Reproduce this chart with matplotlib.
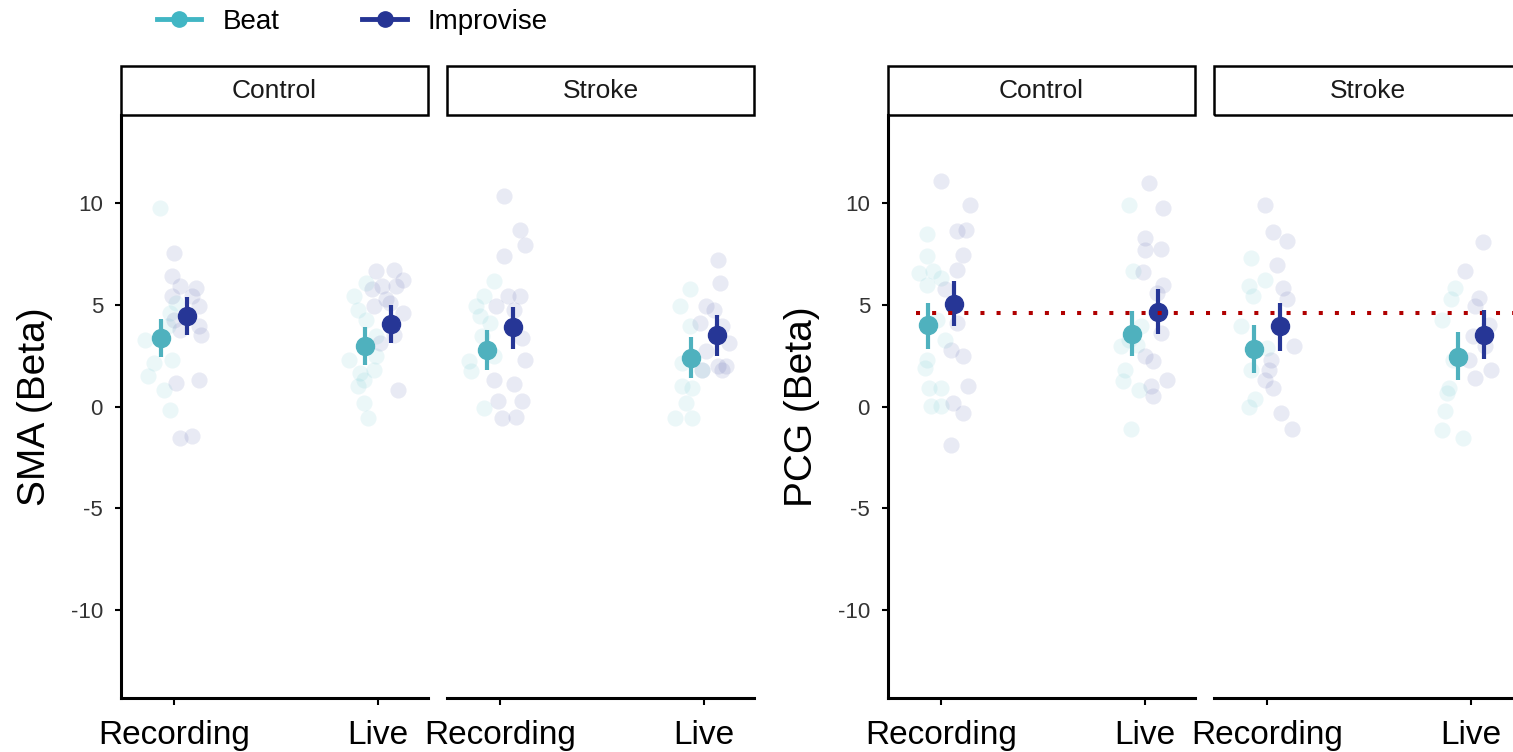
#Beta estimates for SMA and PCG by group, condition and task.
import matplotlib.pyplot as plt
from matplotlib.patches import Rectangle
from matplotlib.lines import Line2D

plt.rcParams['font.family'] = ['Liberation Sans', 'DejaVu Sans']

conditions = ["Recording", "Live"]
groups = ["Control", "Stroke"]
tasks = ["Beat", "Improvise"]
ylabels = ["SMA (Beta)", "PCG (Beta)"]
yticks = [-10, -5, 0, 5, 10]
pcg_reference = 4.6

#Individual betas (y) with the jitter offsets seen on the plot (dx).
#SMA, Control
sma_ctrl_rec_beat = [9.74, 3.28, 2.14, 1.49, 0.83, -0.15, 2.30, 4.59, 5.08, 3.94]
sma_ctrl_rec_beat_dx = [-0.07, -0.14, -0.10, -0.13, -0.05, -0.02, -0.01, -0.02, 0.01, -0.03]
sma_ctrl_rec_imp = [7.53, 6.39, 5.90, 5.82, 5.41, 4.92, 5.41, 3.94, 3.53, 1.16, 1.32, -1.53, -1.46, 3.77, 4.26]
sma_ctrl_rec_imp_dx = [0.00, -0.01, 0.03, 0.11, -0.01, 0.12, 0.09, 0.12, 0.13, 0.01, 0.12, 0.03, 0.09, 0.03, 0.00]
sma_ctrl_live_beat = [5.41, 4.75, 6.06, 2.30, 1.65, 1.32, 0.99, 0.18, -0.56, 1.81, 3.45, 4.26, 2.47]
sma_ctrl_live_beat_dx = [-0.12, -0.10, -0.06, -0.14, -0.09, -0.07, -0.10, -0.07, -0.05, -0.02, -0.01, -0.06, -0.01]
sma_ctrl_live_imp = [6.63, 6.72, 6.23, 5.90, 5.25, 4.92, 5.90, 4.59, 3.53, 3.12, 0.83, 5.08, 5.74]
sma_ctrl_live_imp_dx = [-0.01, 0.08, 0.12, 0.09, 0.04, -0.02, 0.02, 0.12, 0.08, 0.01, 0.10, 0.06, -0.03]
#SMA, Stroke
sma_str_rec_beat = [6.14, 5.41, 4.92, 2.22, 1.73, -0.07, 4.10, 4.43, 2.47, 3.45]
sma_str_rec_beat_dx = [-0.03, -0.08, -0.12, -0.15, -0.14, -0.08, -0.05, -0.10, -0.03, -0.09]
sma_str_rec_imp = [10.34, 8.68, 7.94, 7.40, 5.41, 5.41, 4.92, 3.37, 2.30, 1.32, 1.08, 0.26, 0.26, -0.56, -0.51, 4.75]
sma_str_rec_imp_dx = [0.02, 0.10, 0.12, 0.02, 0.10, 0.04, -0.02, 0.11, 0.12, -0.03, 0.07, 0.11, -0.01, 0.01, 0.08, 0.07]
sma_str_live_beat = [5.74, 4.92, 3.94, 0.99, 0.91, 0.18, -0.56, -0.56, 1.81, 2.14]
sma_str_live_beat_dx = [-0.07, -0.12, -0.07, -0.11, -0.06, -0.09, -0.14, -0.06, -0.01, -0.11]
sma_str_live_imp = [7.21, 6.06, 4.92, 4.75, 4.10, 3.94, 3.12, 2.71, 1.98, 1.81, 1.81, 1.98]
sma_str_live_imp_dx = [0.07, 0.08, 0.01, 0.05, -0.02, 0.09, 0.12, 0.01, 0.11, 0.09, -0.01, 0.07]
#PCG, Control
pcg_ctrl_rec_beat = [8.48, 7.37, 6.55, 6.63, 5.98, 6.31, 3.28, 2.30, 1.90, 0.91, 0.91, 0.02, 0.02, 4.26]
pcg_ctrl_rec_beat_dx = [-0.07, -0.07, -0.11, -0.04, -0.07, 0.00, 0.02, -0.07, -0.08, -0.06, 0.00, -0.05, 0.00, -0.02]
pcg_ctrl_rec_imp = [11.04, 9.90, 8.64, 8.59, 7.45, 6.72, 5.74, 4.10, 2.79, 2.47, 0.99, 0.18, -0.34, -1.90]
pcg_ctrl_rec_imp_dx = [0.00, 0.14, 0.12, 0.08, 0.11, 0.08, 0.02, 0.08, 0.05, 0.11, 0.13, 0.06, 0.11, 0.05]
pcg_ctrl_live_beat = [9.90, 6.63, 3.28, 2.96, 1.81, 1.24, 0.83, -1.09, 3.04, 3.94]
pcg_ctrl_live_beat_dx = [-0.08, -0.06, -0.08, -0.12, -0.10, -0.11, -0.03, -0.07, -0.04, -0.02]
pcg_ctrl_live_imp = [10.96, 9.74, 8.27, 7.70, 7.73, 6.60, 5.98, 5.57, 2.47, 2.22, 0.99, 1.29, 0.51, 3.61]
pcg_ctrl_live_imp_dx = [0.02, 0.09, 0.00, 0.00, 0.08, -0.01, 0.09, 0.06, 0.00, 0.04, 0.03, 0.11, 0.04, 0.08]
#PCG, Stroke
pcg_str_rec_beat = [7.29, 5.90, 6.23, 3.94, 2.88, 1.81, 0.38, -0.02, 5.41]
pcg_str_rec_beat_dx = [-0.08, -0.09, -0.01, -0.13, 0.00, -0.08, -0.06, -0.09, -0.07]
pcg_str_rec_imp = [9.87, 8.54, 8.10, 6.96, 5.82, 5.25, 2.96, 1.81, 1.29, 0.91, -0.31, -1.09, 2.30]
pcg_str_rec_imp_dx = [-0.01, 0.03, 0.10, 0.05, 0.08, 0.10, 0.13, 0.01, -0.01, 0.03, 0.07, 0.12, 0.02]
pcg_str_live_beat = [5.82, 5.25, 4.26, -0.23, 0.67, 0.91, -1.13, -1.53, 2.30]
pcg_str_live_beat_dx = [-0.08, -0.10, -0.14, -0.13, -0.12, -0.11, -0.14, -0.04, -0.09]
pcg_str_live_imp = [8.05, 6.67, 5.33, 4.92, 4.02, 3.45, 1.81, 1.41, 2.30, 2.96]
pcg_str_live_imp_dx = [0.06, -0.03, 0.04, 0.02, 0.09, 0.01, 0.10, 0.02, -0.01, 0.07]

#Means and 95% CI, order: Control Rec, Control Live, Stroke Rec, Stroke Live.
sma_beat_mean = [3.37, 2.96, 2.79, 2.39]
sma_beat_lo = [2.44, 2.06, 1.81, 1.41]
sma_beat_hi = [4.31, 3.91, 3.77, 3.40]
sma_imp_mean = [4.43, 4.05, 3.89, 3.50]
sma_imp_lo = [3.50, 3.12, 2.84, 2.47]
sma_imp_hi = [5.36, 4.97, 4.87, 4.48]
pcg_beat_mean = [3.99, 3.58, 2.83, 2.43]
pcg_beat_lo = [2.84, 2.50, 1.65, 1.29]
pcg_beat_hi = [5.08, 4.67, 4.02, 3.64]
pcg_imp_mean = [5.05, 4.64, 3.94, 3.53]
pcg_imp_lo = [3.94, 3.58, 2.71, 2.34]
pcg_imp_hi = [6.18, 5.77, 5.08, 4.71]

#Colours
point_col = {"Beat": "#41B6C4", "Improvise": "#253494"}
mean_col = {"Beat": "#4FB1BE", "Improvise": "#263696"}
dodge = {"Beat": -0.062, "Improvise": 0.062}

raw = {
    ("SMA", "Control", "Recording"): [(sma_ctrl_rec_beat, sma_ctrl_rec_beat_dx), (sma_ctrl_rec_imp, sma_ctrl_rec_imp_dx)],
    ("SMA", "Control", "Live"): [(sma_ctrl_live_beat, sma_ctrl_live_beat_dx), (sma_ctrl_live_imp, sma_ctrl_live_imp_dx)],
    ("SMA", "Stroke", "Recording"): [(sma_str_rec_beat, sma_str_rec_beat_dx), (sma_str_rec_imp, sma_str_rec_imp_dx)],
    ("SMA", "Stroke", "Live"): [(sma_str_live_beat, sma_str_live_beat_dx), (sma_str_live_imp, sma_str_live_imp_dx)],
    ("PCG", "Control", "Recording"): [(pcg_ctrl_rec_beat, pcg_ctrl_rec_beat_dx), (pcg_ctrl_rec_imp, pcg_ctrl_rec_imp_dx)],
    ("PCG", "Control", "Live"): [(pcg_ctrl_live_beat, pcg_ctrl_live_beat_dx), (pcg_ctrl_live_imp, pcg_ctrl_live_imp_dx)],
    ("PCG", "Stroke", "Recording"): [(pcg_str_rec_beat, pcg_str_rec_beat_dx), (pcg_str_rec_imp, pcg_str_rec_imp_dx)],
    ("PCG", "Stroke", "Live"): [(pcg_str_live_beat, pcg_str_live_beat_dx), (pcg_str_live_imp, pcg_str_live_imp_dx)],
}
summary = {
    "SMA": {"Beat": (sma_beat_mean, sma_beat_lo, sma_beat_hi), "Improvise": (sma_imp_mean, sma_imp_lo, sma_imp_hi)},
    "PCG": {"Beat": (pcg_beat_mean, pcg_beat_lo, pcg_beat_hi), "Improvise": (pcg_imp_mean, pcg_imp_lo, pcg_imp_hi)},
}

W, H = 1513, 752
fig = plt.figure(figsize=(W / 100, H / 100), dpi=100)

#panel left edges in pixels
panel_left = {("SMA", "Control"): 121, ("SMA", "Stroke"): 447,
              ("PCG", "Control"): 888, ("PCG", "Stroke"): 1214}
panel_w, panel_top, panel_bot = 307, 115, 698

axes = {}
for (region, group), px in panel_left.items():
    ax = fig.add_axes([px / W, 1 - panel_bot / H, panel_w / W, (panel_bot - panel_top) / H])
    axes[(region, group)] = ax
    ax.patch.set_visible(False)
    ax.set_xlim(0.74, 2.245)
    ax.set_ylim(-14.3, 14.3)
    ax.set_xticks([1, 2])
    ax.set_xticklabels(conditions)
    ax.set_yticks(yticks)
    ax.set_yticklabels([str(t) for t in yticks])
    for s in ["top", "right"]:
        ax.spines[s].set_visible(False)
    ax.spines["left"].set_linewidth(2.2)
    ax.spines["bottom"].set_linewidth(2.2)
    ax.tick_params(axis="x", length=5, width=1.5, labelsize=24, pad=11)
    ax.tick_params(axis="y", length=4, width=1.5, labelsize=16, pad=9, labelcolor="#333333")
    if group == "Stroke":
        ax.spines["left"].set_visible(False)
        ax.tick_params(axis="y", left=False, labelleft=False)
    else:
        ax.set_ylabel(ylabels[0] if region == "SMA" else ylabels[1], fontsize=28)
        ax.yaxis.set_label_coords(-0.222, 0.5)
    #strip header
    ax.add_patch(Rectangle((0, 1.0), 1, 49 / (panel_bot - panel_top), transform=ax.transAxes,
                           fill=False, lw=1.8, edgecolor="black", clip_on=False))
    ax.text(0.5, 1.0 + 24.5 / (panel_bot - panel_top), group, transform=ax.transAxes,
            ha="center", va="center", fontsize=19, color="#1a1a1a")

    gi = groups.index(group)
    for ci, cond in enumerate(conditions):
        xpos = ci + 1
        for ti, task in enumerate(tasks):
            yv, dx = raw[(region, group, cond)][ti]
            ax.scatter([xpos + d for d in dx], yv, s=135, color=point_col[task],
                       alpha=0.1, lw=0, zorder=2)
        for task in tasks:
            m, lo, hi = summary[region][task]
            k = gi * 2 + ci
            ax.plot([xpos + dodge[task]] * 2, [lo[k], hi[k]], color=mean_col[task],
                    lw=3, solid_capstyle="butt", zorder=3)
            ax.plot(xpos + dodge[task], m[k], "o", color=mean_col[task], ms=13, zorder=4)

#dotted reference line on the PCG plot, running on across the Stroke panel
ax = axes[("PCG", "Control")]
ax.plot([0.877, 3.9], [pcg_reference, pcg_reference], color="#B00000", lw=2.9,
        linestyle=(0, (1, 3)), clip_on=False, zorder=5)

#legend
handles = [Line2D([], [], color=point_col[t], marker="o", ms=11, lw=3.5) for t in tasks]
fig.legend(handles, tasks, loc="center left", bbox_to_anchor=(157 / W, 1 - 22 / H),
           ncol=2, frameon=False, fontsize=20, handlelength=1.6, handletextpad=0.75,
           columnspacing=3.0, borderaxespad=0, borderpad=0)

plt.savefig("out.png", dpi=100)
